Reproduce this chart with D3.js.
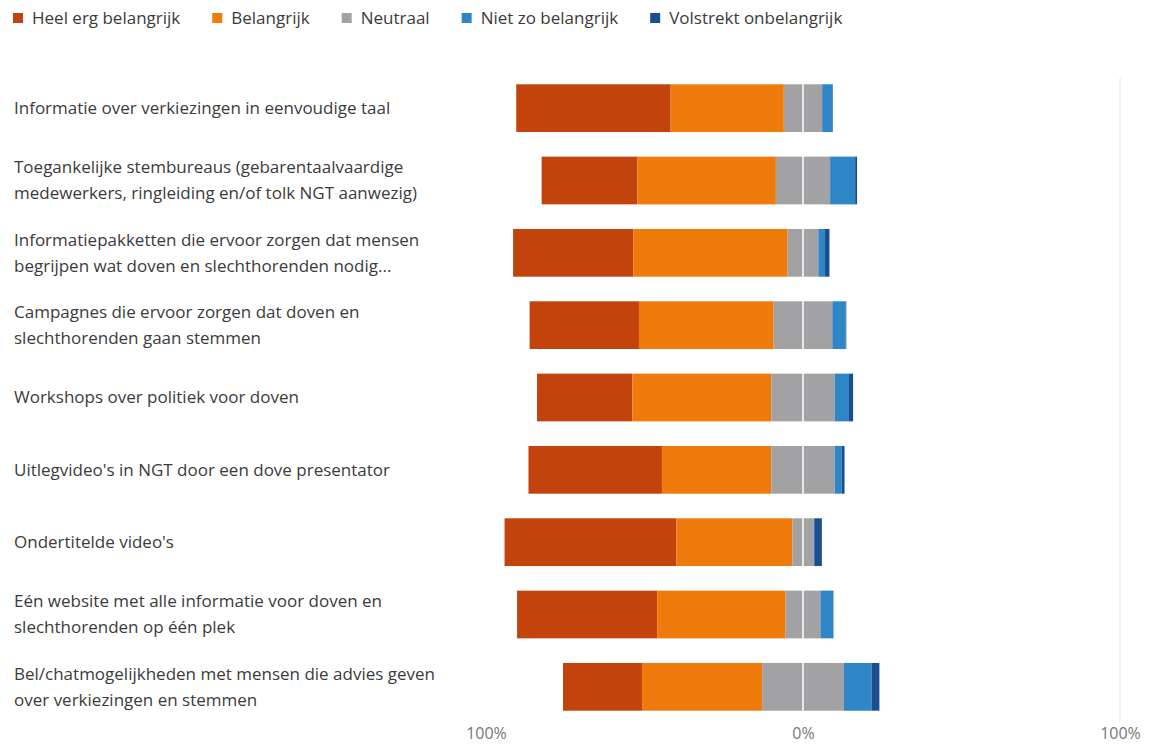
<!DOCTYPE html>
<html>
<head>
	<meta charset="utf-8">
	<title>Diverging stacked bar</title>
	<script src="https://cdn.jsdelivr.net/npm/d3@7"></script>
	<style type="text/css">
		body { margin: 0; background: #fff; }
		.chart text { font-family: "Open Sans", "Noto Sans", sans-serif; }
	</style>
</head>
<body>

	<svg width="1149" height="748" class="chart"></svg>

	<script type="text/javascript">

		// categories (wrapped as in the original)
		var categories = [
			['Informatie over verkiezingen in eenvoudige taal'],
			['Toegankelijke stembureaus (gebarentaalvaardige', 'medewerkers, ringleiding en/of tolk NGT aanwezig)'],
			['Informatiepakketten die ervoor zorgen dat mensen', 'begrijpen wat doven en slechthorenden nodig...'],
			['Campagnes die ervoor zorgen dat doven en', 'slechthorenden gaan stemmen'],
			['Workshops over politiek voor doven'],
			["Uitlegvideo's in NGT door een dove presentator"],
			["Ondertitelde video's"],
			['Eén website met alle informatie voor doven en', 'slechthorenden op één plek'],
			['Bel/chatmogelijkheden met mensen die advies geven', 'over verkiezingen en stemmen']
		]

		var series = ['Heel erg belangrijk', 'Belangrijk', 'Neutraal', 'Niet zo belangrijk', 'Volstrekt onbelangrijk']
		var colors = ['#c2430b', '#ee7b0c', '#a2a2a4', '#2f86c6', '#1a4e8e']

		// percentages per series, one value per category
		var heelErg     = [48.7, 30.2, 37.9, 34.5, 30.1, 42.1, 54.2, 44.2, 24.9]
		var belangrijk  = [35.7, 43.7, 48.7, 42.5, 43.8, 34.5, 36.6, 40.5, 37.9]
		var neutraal    = [12.1, 17.1,  9.7, 18.5, 20.0, 20.0,  6.7, 11.0, 25.8]
		var nietZo      = [ 3.3,  7.9,  2.1,  4.2,  4.5,  2.2,  0.2,  4.0,  8.7]
		var volstrekt   = [ 0.1,  0.6,  1.4,  0.2,  1.3,  0.9,  2.4,  0.1,  2.5]

		var tickValues = [-100, 0, 100]

		var svg = d3.select('.chart')

		var values = [heelErg, belangrijk, neutraal, nietZo, volstrekt]

		var rows = categories.map(function(c, i) {
			var v = values.map(function(s) { return s[i] })
			var x = -(v[0] + v[1] + v[2] / 2)
			var segs = v.map(function(val, k) {
				var s = {key: series[k], x0: x, x1: x + val, color: colors[k]}
				x += val
				return s
			})
			return {idx: i, label: c, segs: segs}
		})

		var xScale = d3.scaleLinear().domain([-100, 100]).range([486, 1120])
		var yScale = d3.scaleBand()
			.domain(d3.range(categories.length))
			.range([72, 723])
			.paddingInner(0.34)
			.paddingOuter(0.17)

		// gridline at 100%
		svg.append('line')
			.attr('x1', xScale(100)).attr('x2', xScale(100))
			.attr('y1', 78).attr('y2', 722)
			.attr('stroke', '#e6e6e6')
			.attr('stroke-width', 1)

		// bars
		var g = svg.append('g')
		var rowG = g.selectAll('.row')
			.data(rows)
			.enter()
			.append('g')
			.attr('class', 'row')

		rowG.selectAll('rect')
			.data(function(d) { return d.segs.map(function(s) { s.idx = d.idx; return s }) })
			.enter()
			.append('rect')
			.attr('x', function(d) { return xScale(d.x0) })
			.attr('y', function(d) { return yScale(d.idx) })
			.attr('width', function(d) { return Math.max(0, xScale(d.x1) - xScale(d.x0)) })
			.attr('height', yScale.bandwidth())
			.attr('fill', function(d) { return d.color })

		// zero line over the bars
		svg.append('line')
			.attr('x1', xScale(0)).attr('x2', xScale(0))
			.attr('y1', yScale(0)).attr('y2', yScale(categories.length - 1) + yScale.bandwidth())
			.attr('stroke', '#ffffff')
			.attr('stroke-width', 1.5)

		// category labels
		var lineH = 26
		rowG.append('text')
			.attr('fill', '#3b3b3b')
			.attr('font-size', 17)
			.each(function(d) {
				var t = d3.select(this)
				var cy = yScale(d.idx) + yScale.bandwidth() / 2
				var startY = cy - (d.label.length - 1) * lineH / 2
				d.label.forEach(function(line, k) {
					t.append('tspan')
						.attr('x', 14)
						.attr('y', startY + k * lineH)
						.attr('dy', '0.35em')
						.text(line)
				})
			})

		// x axis
		var axis = svg.append('g')
			.attr('transform', 'translate(0,725)')
			.call(d3.axisBottom(xScale)
				.tickValues(tickValues)
				.tickSize(0)
				.tickFormat(function(d) { return Math.abs(d) + '%' }))
		axis.select('.domain').remove()
		axis.selectAll('text')
			.attr('fill', '#777777')
			.attr('font-size', 16)
			.attr('font-family', '"Liberation Sans", Arial, sans-serif')

		// legend
		var legend = svg.append('g').attr('transform', 'translate(13,18)')
		var lx = 0
		series.forEach(function(s, k) {
			var item = legend.append('g').attr('transform', 'translate(' + lx + ',0)')
			item.append('rect')
				.attr('x', 0).attr('y', -5)
				.attr('width', 10).attr('height', 10)
				.attr('fill', colors[k])
			var t = item.append('text')
				.attr('x', 19)
				.attr('dy', '0.35em')
				.attr('font-size', 17)
				.attr('fill', '#3b3b3b')
				.text(s)
			lx += 19 + t.node().getComputedTextLength() + 32
		})

	</script>

</body>
</html>
